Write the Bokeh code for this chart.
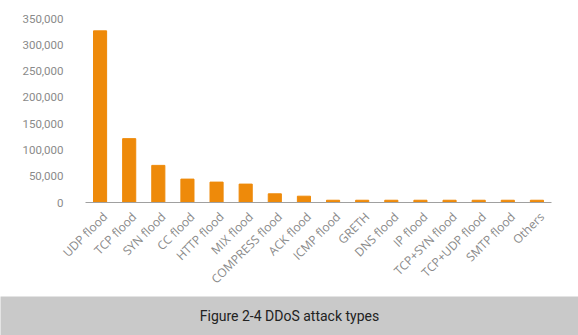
import math
from bokeh.plotting import figure
from bokeh.layouts import column, row
from bokeh.models import (Range1d, NumeralTickFormatter, FixedTicker, Label, LinearAxis,
                          LinearScale)
from bokeh.embed import file_html
from bokeh.resources import INLINE

categories = ["UDP flood", "TCP flood", "SYN flood", "CC flood", "HTTP flood", "MIX flood",
              "COMPRESS flood", "ACK flood", "ICMP flood", "GRETH", "DNS flood", "IP flood",
              "TCP+SYN flood", "TCP+UDP flood", "SMTP flood", "Others"]
values = [326500, 121500, 70600, 44500, 38800, 35000, 16500, 12000,
          4300, 4300, 4300, 4300, 4300, 4300, 4300, 4300]
y_ticks = [0, 50000, 100000, 150000, 200000, 250000, 300000, 350000]
caption = "Figure 2-4 DDoS attack types"

n = len(categories)
idx = list(range(n))
p = figure(x_range=Range1d(-0.5, n - 0.5), y_range=Range1d(0, 350000), width=578, height=296,
           output_backend="svg", toolbar_location=None, min_border_left=85,
           min_border_right=27, min_border_top=18, min_border_bottom=93)
p.vbar(x=idx, top=values, width=0.45, color="#ee8a0a")
p.outline_line_color = None
p.xgrid.grid_line_color = None
p.ygrid.grid_line_color = None
p.xaxis.visible = False
p.yaxis.ticker = FixedTicker(ticks=y_ticks)
p.yaxis.formatter = NumeralTickFormatter(format="0,0")
p.yaxis.axis_line_color = None
p.yaxis.major_tick_line_color = None
p.yaxis.minor_tick_line_color = None
p.yaxis.major_label_text_font = "Roboto"
p.yaxis.major_label_text_font_size = "11.5px"
p.yaxis.major_label_text_color = "#8a8a8a"
p.yaxis.major_label_standoff = 16

# label axis: same category slots, labels nudged right a few pixels
shift = 0.17
p.extra_x_ranges = {"lab": Range1d(-0.5 - shift, n - 0.5 - shift)}
p.extra_x_scales = {"lab": LinearScale()}
lab_axis = LinearAxis(x_range_name="lab", ticker=FixedTicker(ticks=idx),
                      major_label_overrides={i: c for i, c in enumerate(categories)})
lab_axis.axis_line_color = "#a0a0a0"
lab_axis.major_tick_line_color = None
lab_axis.minor_tick_line_color = None
lab_axis.major_label_orientation = math.pi / 4
lab_axis.major_label_text_font = "Open Sans"
lab_axis.major_label_text_font_size = "12px"
lab_axis.major_label_text_color = "#8a8a8a"
lab_axis.major_label_standoff = 6
p.add_layout(lab_axis, "below")

c = figure(width=578, height=39, x_range=Range1d(0, 1), y_range=Range1d(0, 1),
           output_backend="svg", toolbar_location=None, min_border=0,
           x_axis_location=None, y_axis_location=None)
c.grid.visible = False
c.outline_line_color = None
c.background_fill_color = "#c9c9c9"
c.border_fill_color = "#c9c9c9"
c.add_layout(Label(x=0.5, y=0.5, text=caption, text_align="center",
                   text_baseline="middle", text_font="Roboto", text_font_size="14px",
                   text_color="#222222"))

layout = column(p, row(c), spacing=0)
open("out.html", "w").write(file_html(layout, INLINE))
